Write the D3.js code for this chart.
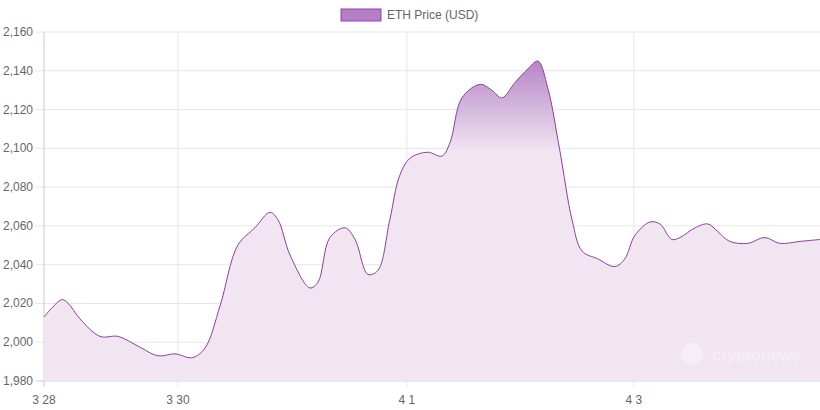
<!DOCTYPE html>
<html><head><meta charset="utf-8">
<script src="https://cdn.jsdelivr.net/npm/d3@7"></script>
<style>body{margin:0;background:#fff}svg{font-family:"Liberation Sans",Arial,sans-serif}</style>
</head><body><div id="chart"></div>
<script>
// hours since 3/28 ~20:00
const hours = [0,3.8,5.1,7.6,11.8,15.6,19.8,24,27.6,31.2,33.9,37.1,40.8,44.4,47.6,49.3,51.8,56,57.7,60.2,63.4,65.5,68.2,70.3,72.8,74.9,77.1,80.8,83.8,85.5,88,91.8,94.3,96.4,99.2,101.9,104,106.1,108.6,111.2,113.3,116.6,120.2,122.3,124.4,127.6,129.7,132.2,133.9,137.1,139.8,141.9,144.4,148.2,151.8,154.9,159.2,163.4];
const prices = [2013,2022,2020,2012,2003,2003,1998,1993,1994,1992,1997,2019,2050,2059,2067,2063,2045,2028,2031,2054,2059,2053,2035,2037,2063,2086,2095,2098,2096,2103,2126,2133,2130,2126,2134,2141,2145,2131,2099,2063,2047,2043,2039,2043,2055,2062,2061,2053,2054,2059,2061,2057,2052,2051,2054,2051,2052,2053];
const tickHours = [0,28.2,76.4,124.2];
const tickLabels = ['3 28','3 30','4 1','4 3'];
const yTicks = d3.range(1980, 2161, 20);

const W = 820, H = 410, m = {l:44, r:0, t:32, b:29};
const svg = d3.select('#chart').append('svg').attr('width', W).attr('height', H);
const x = d3.scaleLinear().domain([0, 163.4]).range([m.l, W - m.r]);
const y = d3.scaleLinear().domain([1980, 2160]).range([H - m.b, m.t]);

const grad = svg.append('defs').append('linearGradient').attr('id','g')
  .attr('gradientUnits','userSpaceOnUse').attr('x1',0).attr('x2',0)
  .attr('y1', y(2146)).attr('y2', y(2098));
grad.append('stop').attr('offset',0).attr('stop-color','#b584c7');
grad.append('stop').attr('offset',1).attr('stop-color','#f1e5f2');

// grid
svg.append('g').selectAll('line').data(yTicks).join('line')
  .attr('x1', m.l - 8).attr('x2', W).attr('y1', d => y(d)).attr('y2', d => y(d))
  .attr('stroke', d => d === 1980 ? '#ccc' : '#e6e6e6');
svg.append('g').selectAll('line').data(tickHours).join('line')
  .attr('x1', d => x(d)).attr('x2', d => x(d)).attr('y1', m.t).attr('y2', H - m.b + 6)
  .attr('stroke', (d,i) => i === 0 ? '#ccc' : '#e6e6e6');

const curve = d3.curveCatmullRom.alpha(0.5);
svg.append('path').datum(hours)
  .attr('d', d3.area().x(d => x(d)).y0(y(1980)).y1((d,i) => y(prices[i])).curve(curve))
  .attr('fill', 'url(#g)');
svg.append('path').datum(hours)
  .attr('d', d3.line().x(d => x(d)).y((d,i) => y(prices[i])).curve(curve))
  .attr('fill', 'none').attr('stroke', '#8e3e9e').attr('stroke-width', 1);

svg.append('g').selectAll('text').data(yTicks).join('text')
  .attr('x', 33).attr('y', d => y(d) + 4).attr('text-anchor','end')
  .attr('font-size', 12).attr('fill','#666').text(d => d3.format(',')(d));
svg.append('g').selectAll('text').data(tickHours).join('text')
  .attr('x', d => x(d)).attr('y', H - 6).attr('text-anchor','middle')
  .attr('font-size', 12).attr('fill','#666').text((d,i) => tickLabels[i]);

// legend
svg.append('rect').attr('x', 341).attr('y', 9).attr('width', 40).attr('height', 12)
  .attr('fill', '#b57fc7').attr('stroke', '#8e44ad');
svg.append('text').attr('x', 387).attr('y', 19).attr('font-size', 12).attr('fill', '#666').text('ETH Price (USD)');

// watermark
svg.append('text').attr('x', 712).attr('y', 361).attr('font-size', 16).attr('font-weight','bold')
  .attr('fill', '#fff').attr('opacity', 0.35).text('cryptonews');
svg.append('circle').attr('cx', 692).attr('cy', 354).attr('r', 11).attr('fill', '#fff').attr('opacity', 0.35);
</script></body></html>
